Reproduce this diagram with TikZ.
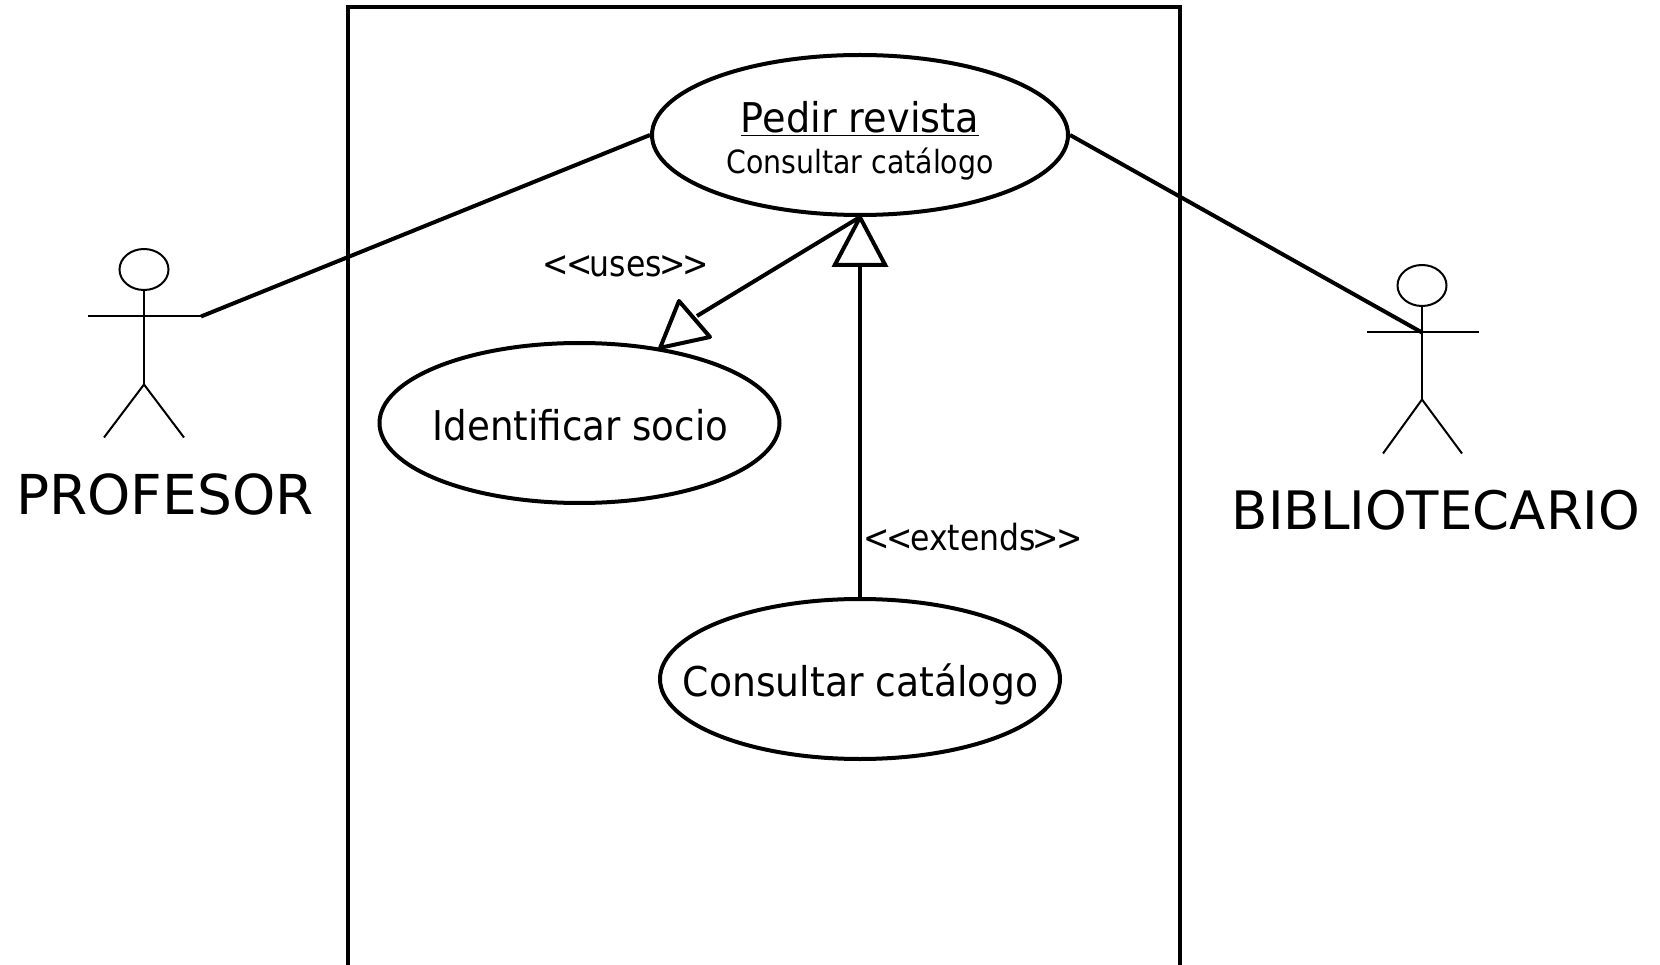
\documentclass[tikz,border=0pt]{standalone}
\usepackage{graphicx}
\usepackage{fontspec}
\setmainfont{DejaVu Sans}
\usetikzlibrary{shapes.geometric,arrows.meta}
\newcommand{\fs}[1]{\fontsize{#1}{#1}\selectfont}
\newcommand{\nar}[2]{\scalebox{#1}[1]{#2}}
\newcommand{\ste}[1]{\nar{.875}{<\kern-3.3pt<\kern-3.3pt #1\kern-3.3pt>\kern-3.3pt>}}
\tikzset{
  usecase/.style={ellipse,draw=black,line width=4pt,fill=white,minimum width=416pt,minimum height=160pt,inner sep=0pt,align=center},
  assoc/.style={draw=black,line width=4pt},
  gen/.style={draw=black,line width=4pt,shorten >=-4pt,-{Triangle[open,fill=white,length=54pt,width=56pt]}},
  openhead/.style={draw=black,line width=4pt,fill=white,line join=round},
  actorline/.style={draw=black,line width=2pt},
  head/.style={ellipse,draw=black,line width=2pt,minimum width=49pt,minimum height=41pt,inner sep=0pt},
  actorlabel/.style={anchor=base,inner sep=0pt},
  stereo/.style={anchor=base,inner sep=0pt,font=\fs{36}},
  uctext/.style={anchor=base,inner sep=0pt}
}
\begin{document}
\begin{tikzpicture}[x=1pt,y=-1pt]
\useasboundingbox (0,0) rectangle (1660,965);
\clip (0,0) rectangle (1660,965);
\draw[line width=4pt] (348,7.5) rectangle (1180,1000);
% use cases
\node[usecase] (pedir) at (860,135) {};
\node[usecase,minimum width=400pt] (ident) at (579.5,423) {};
\node[usecase,minimum width=400pt] (cons) at (860,679) {};
\node[uctext,font=\fs{41}] (t1) at (860,133) {\nar{.933}{\underline{Pedir revista}}};
\node[uctext,font=\fs{32}] (t2) at (860,174) {\nar{.888}{Consultar catálogo}};
\node[uctext,font=\fs{41}] (t3) at (580.5,440) {\nar{.907}{Identificar socio}};
\node[uctext,font=\fs{41}] (t4) at (860.5,696) {\nar{.92}{Consultar catálogo}};
% actor left
\node[head] (h1) at (144,269.5) {};
\coordinate (a1l) at (88,316.5);
\coordinate (a1r) at (201,316.5);
\coordinate (c1) at (144,384.5);
\coordinate (f1l) at (104,437.5);
\coordinate (f1r) at (184,437.5);
\draw[actorline] (h1.south) -- (c1);
\draw[actorline] (a1l) -- (a1r);
\draw[actorline] (f1l) -- (c1) -- (f1r);
\node[actorlabel,font=\fs{55}] (l1) at (165,514) {PROFESOR};
% actor right
\node[head] (h2) at (1422,285.5) {};
\coordinate (a2l) at (1367,332.5);
\coordinate (a2r) at (1479,332.5);
\coordinate (n2) at (1422,332.5);
\coordinate (c2) at (1422,399.5);
\coordinate (f2l) at (1383,453.5);
\coordinate (f2r) at (1462,453.5);
\draw[actorline] (h2.south) -- (c2);
\draw[actorline] (a2l) -- (a2r);
\draw[actorline] (f2l) -- (c2) -- (f2r);
\node[actorlabel,font=\fs{53}] (l2) at (1436,529) {BIBLIOTECARIO};
% connectors
\draw[assoc] (a1r) -- (pedir.west);
\draw[assoc] (n2) -- (pedir.east);
\draw[gen] (cons.north) -- (pedir.south);
\coordinate (uapex) at (ident.43.5);
\coordinate (uleft) at (679,301);
\coordinate (uright) at (710,337);
\coordinate (uend) at (697,316);
\draw[assoc] (pedir.south) -- (uend);
\draw[openhead] (uapex) -- (uleft) -- (uright) -- cycle;
% stereotypes
\node[stereo] (s1) at (626,277) {\ste{uses}};
\node[stereo] (s2) at (973,550) {\ste{extends}};
\end{tikzpicture}
\end{document}
